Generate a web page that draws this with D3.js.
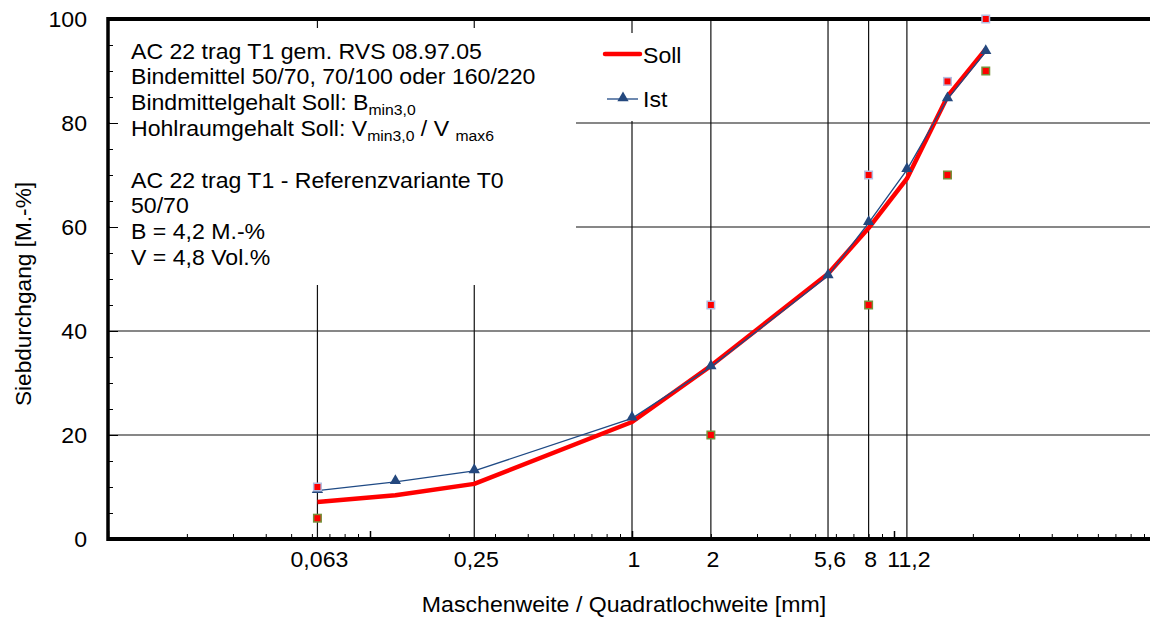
<!DOCTYPE html>
<html>
<head>
<meta charset="utf-8">
<script src="https://cdn.jsdelivr.net/npm/d3@7"></script>
<style>
  html, body { margin: 0; padding: 0; background: #fff; }
  svg { display: block; font-family: "Liberation Sans", Arial, sans-serif; }
</style>
</head>
<body>
<svg id="chart" width="1150" height="617"></svg>
<script>
// ---- data ----
const sieves = [0.063, 0.125, 0.25, 1, 2, 5.6, 8, 11.2, 16, 22.4];
const soll   = [7.1, 8.4, 10.6, 22.5, 33.3, 51.0, 59.8, 69.3, 85.1, 94.2];
const ist    = [9.3, 11.0, 13.1, 23.2, 33.1, 50.6, 60.8, 71.0, 84.6, 93.7];
const limitSieves = [0.063, 2, 8, 16, 22.4];
const upperLimit  = [10, 45, 70, 88, 100];
const lowerLimit  = [4, 20, 45, 70, 90];
const xTickValues = [0.063, 0.25, 1, 2, 5.6, 8, 11.2];
const xTickLabels = ["0,063", "0,25", "1", "2", "5,6", "8", "11,2"];
const yTickValues = [0, 20, 40, 60, 80, 100];
const yGridValues = [20, 40, 60, 80];
const seriesNames = ["Soll", "Ist"];
const xTitle = "Maschenweite / Quadratlochweite [mm]";
const yTitle = "Siebdurchgang [M.-%]";
const infoLines = [
  [{t: "AC 22 trag T1 gem. RVS 08.97.05"}],
  [{t: "Bindemittel 50/70, 70/100 oder 160/220"}],
  [{t: "Bindmittelgehalt Soll: B"}, {t: "min3,0", sub: true}],
  [{t: "Hohlraumgehalt Soll: V"}, {t: "min3,0", sub: true}, {t: " / V "}, {t: "max6", sub: true}],
  [],
  [{t: "AC 22 trag T1 - Referenzvariante T0"}],
  [{t: "50/70"}],
  [{t: "B = 4,2 M.-%"}],
  [{t: "V = 4,8 Vol.%"}]
];

// ---- layout ----
const svg = d3.select("#chart");
const pL = 108, pT = 19, pB = 539;
const x = d3.scaleLog().domain([0.01, 100]).range([pL, pL + 4 * 262]);
const y = d3.scaleLinear().domain([0, 100]).range([pB, pT]);
const pR = x.range()[1];

const FS = 22;
const SX = 1.05; // horizontal stretch of the original text rendering
const at = (px, py) => `translate(${px},${py}) scale(${SX},1)`;

// gridlines
const grid = svg.append("g");
grid.selectAll("line.v").data(xTickValues).join("line").attr("class", "v")
  .attr("x1", d => x(d)).attr("x2", d => x(d))
  .attr("y1", pT).attr("y2", pB)
  .attr("stroke", "#111").attr("stroke-width", 1.2);
grid.selectAll("line.h").data(yGridValues).join("line").attr("class", "h")
  .attr("x1", pL).attr("x2", pR)
  .attr("y1", d => y(d)).attr("y2", d => y(d))
  .attr("stroke", "#111").attr("stroke-width", 1.2);

// text box (white, covers grid)
svg.append("rect").attr("x", pL + 2).attr("y", 28).attr("width", 576 - pL - 2).attr("height", 257)
  .attr("fill", "#fff");
// legend box
svg.append("rect").attr("x", 578).attr("y", 33).attr("width", 126).attr("height", 88)
  .attr("fill", "#fff");

// info text
infoLines.forEach((segs, i) => {
  if (segs.length === 0) return;
  const baseY = 58.5 + i * 25.8;
  const row = svg.append("text").attr("transform", at(131, baseY))
    .attr("font-size", FS).attr("fill", "#000").style("white-space", "pre");
  let offset = 0;
  segs.forEach(seg => {
    const target = seg.sub ? 5 : 0;
    const ts = row.append("tspan").text(seg.t).attr("dy", target - offset);
    if (seg.sub) ts.attr("font-size", 15);
    offset = target;
  });
});

// lines
const line = d3.line().x(d => x(d[0])).y(d => y(d[1]));
const sollPts = sieves.map((s, i) => [s, soll[i]]);
const istPts = sieves.map((s, i) => [s, ist[i]]);

svg.append("path").attr("d", line(sollPts)).attr("fill", "none")
  .attr("stroke", "#ff0000").attr("stroke-width", 4.5).attr("stroke-linejoin", "round");
svg.append("path").attr("d", line(istPts)).attr("fill", "none")
  .attr("stroke", "#1f4a85").attr("stroke-width", 1.3);
const tri = d3.symbol().type(d3.symbolTriangle).size(55);
svg.selectAll("path.tri").data(istPts).join("path")
  .attr("class", "tri")
  .attr("d", tri)
  .attr("transform", d => `translate(${x(d[0])},${y(d[1]) - 1})`)
  .attr("fill", "#24487e");

// minor / major ticks x (inward, upward)
const allLog = x.ticks();
const isDecade = v => Math.abs(Math.log10(v) - Math.round(Math.log10(v))) < 1e-9;
const decades = allLog.filter(isDecade);
const minorX = allLog.filter(v => !isDecade(v));
svg.append("g").attr("transform", `translate(0,${pB})`)
  .call(d3.axisBottom(x).tickValues(minorX).tickSize(-5).tickFormat(""))
  .call(g => g.select(".domain").remove())
  .call(g => g.selectAll("line").attr("stroke", "#000"));
svg.append("g").attr("transform", `translate(0,${pB})`)
  .call(d3.axisBottom(x).tickValues(decades).tickSize(-8).tickFormat(""))
  .call(g => g.select(".domain").remove())
  .call(g => g.selectAll("line").attr("stroke", "#000").attr("stroke-width", 1.5));

// y ticks (inward)
const minorY = d3.range(5, 100, 5).filter(v => v % 20 !== 0);
svg.append("g").attr("transform", `translate(${pL},0)`)
  .call(d3.axisLeft(y).tickValues(minorY).tickSize(-5).tickFormat(""))
  .call(g => g.select(".domain").remove())
  .call(g => g.selectAll("line").attr("stroke", "#000"));
svg.append("g").attr("transform", `translate(${pL},0)`)
  .call(d3.axisLeft(y).tickValues(yTickValues).tickSize(-10).tickFormat(""))
  .call(g => g.select(".domain").remove())
  .call(g => g.selectAll("line").attr("stroke", "#000"));

// frame lines
svg.append("line").attr("x1", pL - 1).attr("x2", pR).attr("y1", pT).attr("y2", pT)
  .attr("stroke", "#000").attr("stroke-width", 4);
svg.append("line").attr("x1", pL - 1).attr("x2", pR).attr("y1", pB).attr("y2", pB)
  .attr("stroke", "#000").attr("stroke-width", 4);
svg.append("line").attr("x1", pL).attr("x2", pL).attr("y1", pT - 2).attr("y2", pB + 2)
  .attr("stroke", "#000").attr("stroke-width", 3.5);

// limit squares (drawn over the frame)
const sq = 7.5;
svg.selectAll("rect.up").data(limitSieves.map((s, i) => [s, upperLimit[i]])).join("rect")
  .attr("class", "up")
  .attr("x", d => x(d[0]) - sq / 2).attr("y", d => y(d[1]) - sq / 2)
  .attr("width", sq).attr("height", sq)
  .attr("fill", "#ff0000").attr("stroke", "#b4bde0").attr("stroke-width", 1.5);
svg.selectAll("rect.lo").data(limitSieves.map((s, i) => [s, lowerLimit[i]])).join("rect")
  .attr("class", "lo")
  .attr("x", d => x(d[0]) - sq / 2).attr("y", d => y(d[1]) - sq / 2)
  .attr("width", sq).attr("height", sq)
  .attr("fill", "#ff0000").attr("stroke", "#76903a").attr("stroke-width", 1.5);

// y labels
svg.append("g").selectAll("text").data(yTickValues).join("text")
  .attr("transform", d => at(87, y(d))).attr("dy", "0.35em")
  .attr("text-anchor", "end").attr("font-size", FS).attr("fill", "#000")
  .text(d => d);

// x labels
svg.append("g").selectAll("text").data(xTickValues).join("text")
  .attr("transform", d => at(x(d) + 2, 567))
  .attr("text-anchor", "middle").attr("font-size", FS).attr("fill", "#000")
  .text((d, i) => xTickLabels[i]);

// titles
svg.append("text").attr("transform", at(624, 612)).attr("text-anchor", "middle")
  .attr("font-size", FS).attr("fill", "#000").text(xTitle);
svg.append("text").attr("transform", "translate(31,294) rotate(-90) scale(1.03,1)").attr("text-anchor", "middle")
  .attr("font-size", FS).attr("fill", "#000").text(yTitle);

// legend
const lg = svg.append("g");
lg.append("line").attr("x1", 605).attr("x2", 640).attr("y1", 54).attr("y2", 54)
  .attr("stroke", "#ff0000").attr("stroke-width", 4.5).attr("stroke-linecap", "round");
lg.append("text").attr("transform", at(643, 63)).attr("font-size", FS).text(seriesNames[0]);
lg.append("line").attr("x1", 607).attr("x2", 638).attr("y1", 99).attr("y2", 99)
  .attr("stroke", "#1f4a85").attr("stroke-width", 1.3);
lg.append("path").attr("d", tri).attr("transform", "translate(623,98)").attr("fill", "#24487e");
lg.append("text").attr("transform", at(643, 107)).attr("font-size", FS).text(seriesNames[1]);
</script>
</body>
</html>
